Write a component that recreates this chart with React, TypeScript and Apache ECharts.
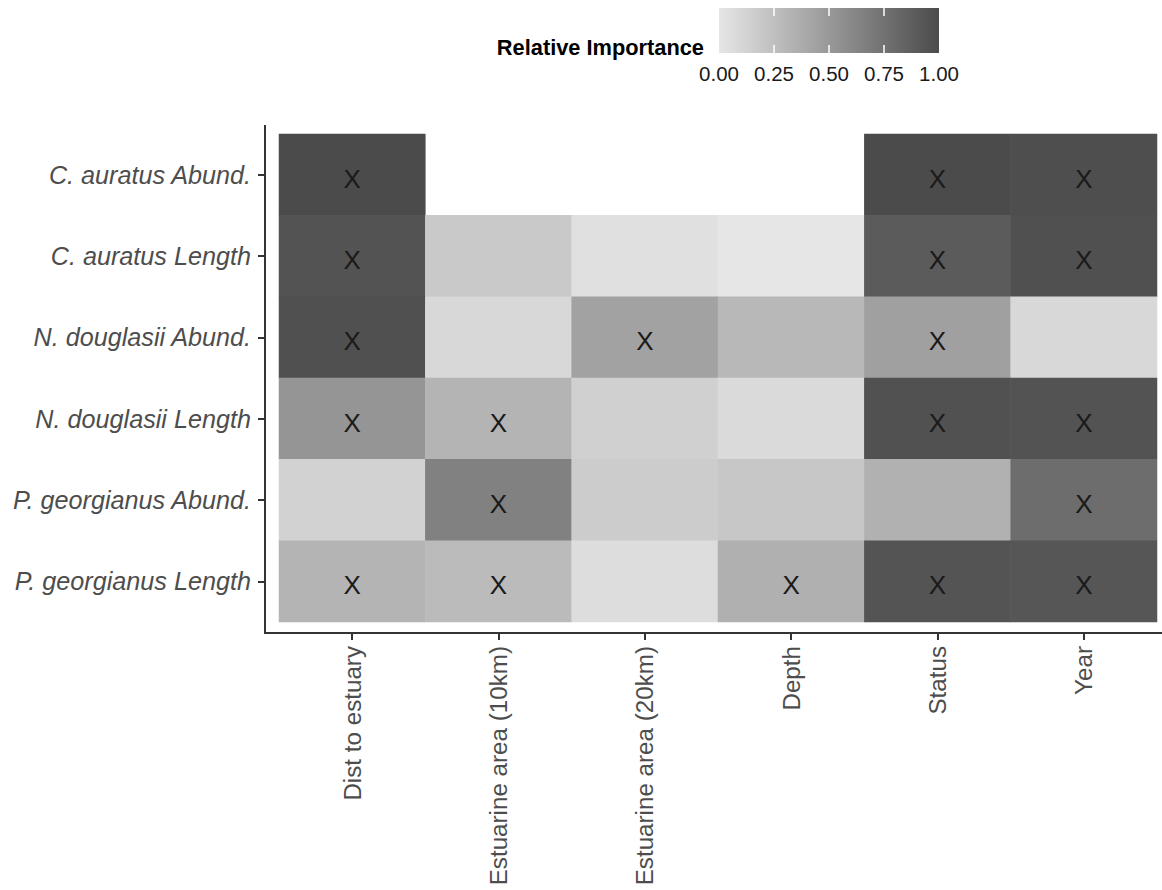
import React, { useEffect, useRef } from "react";
import * as echarts from "echarts";

// Predictors (x axis) and responses (y axis, top to bottom)
const predictors = [
  "Dist to estuary",
  "Estuarine area (10km)",
  "Estuarine area (20km)",
  "Depth",
  "Status",
  "Year",
];
const responses = [
  "C. auratus Abund.",
  "C. auratus Length",
  "N. douglasii Abund.",
  "N. douglasii Length",
  "P. georgianus Abund.",
  "P. georgianus Length",
];

// Relative importance per response (null = not in model)
const cAuratusAbund = [1.0, null, null, null, 1.0, 0.98];
const cAuratusLength = [0.95, 0.19, 0.04, 0.0, 0.9, 0.97];
const nDouglasiiAbund = [0.97, 0.09, 0.44, 0.3, 0.45, 0.09];
const nDouglasiiLength = [0.52, 0.32, 0.14, 0.08, 0.96, 0.95];
const pGeorgianusAbund = [0.13, 0.65, 0.17, 0.2, 0.34, 0.78];
const pGeorgianusLength = [0.32, 0.28, 0.06, 0.35, 0.94, 0.93];

// Marked with "X" (1 = marked)
const cAuratusAbundX = [1, 0, 0, 0, 1, 1];
const cAuratusLengthX = [1, 0, 0, 0, 1, 1];
const nDouglasiiAbundX = [1, 0, 1, 0, 1, 0];
const nDouglasiiLengthX = [1, 1, 0, 0, 1, 1];
const pGeorgianusAbundX = [0, 1, 0, 0, 0, 1];
const pGeorgianusLengthX = [1, 1, 0, 1, 1, 1];

const importanceRows = [
  cAuratusAbund,
  cAuratusLength,
  nDouglasiiAbund,
  nDouglasiiLength,
  pGeorgianusAbund,
  pGeorgianusLength,
];
const markRows = [
  cAuratusAbundX,
  cAuratusLengthX,
  nDouglasiiAbundX,
  nDouglasiiLengthX,
  pGeorgianusAbundX,
  pGeorgianusLengthX,
];

const legendTicks = [0, 0.25, 0.5, 0.75, 1];
const legendTickLabels = ["0.00", "0.25", "0.50", "0.75", "1.00"];

const LOW = "#e6e6e6";
const HIGH = "#4b4b4b";
const FONT = "'Liberation Sans', Arial, Helvetica, sans-serif";

export default function App() {
  const ref = useRef<HTMLDivElement>(null);

  useEffect(() => {
    document.body.style.margin = "0";
    if (!ref.current) return;
    const chart = echarts.init(ref.current, undefined, { renderer: "svg" });

    const data: any[] = [];
    importanceRows.forEach((row, r) => {
      row.forEach((v, c) => {
        if (v !== null && v !== undefined) {
          data.push([c, r, v, markRows[r][c]]);
        }
      });
    });

    const barX = 719;
    const barY = 8;
    const barW = 220;
    const barH = 45;

    const graphics: any[] = [
      {
        type: "polyline",
        shape: { points: [[265, 125], [265, 633], [1162, 633]] },
        style: { stroke: "#333333", lineWidth: 2, fill: null },
        z: 10,
      },
      {
        type: "rect",
        shape: { x: barX, y: barY, width: barW, height: barH },
        style: {
          fill: new echarts.graphic.LinearGradient(0, 0, 1, 0, [
            { offset: 0, color: LOW },
            { offset: 1, color: HIGH },
          ]),
        },
      },
      {
        type: "text",
        x: 704,
        y: 47,
        style: {
          text: "Relative Importance",
          fontSize: 21.8,
          fontWeight: "bold",
          fontFamily: FONT,
          fill: "#000000",
          align: "right",
          verticalAlign: "middle",
        },
      },
    ];
    legendTicks.forEach((t, i) => {
      const x = barX + barW * t;
      if (t > 0 && t < 1) {
        graphics.push({
          type: "line",
          shape: { x1: x, y1: barY, x2: x, y2: barY + 8 },
          style: { stroke: "#ffffff", lineWidth: 1.5 },
        });
        graphics.push({
          type: "line",
          shape: { x1: x, y1: barY + barH - 8, x2: x, y2: barY + barH },
          style: { stroke: "#ffffff", lineWidth: 1.5 },
        });
      }
      graphics.push({
        type: "text",
        x,
        y: 73,
        style: {
          text: legendTickLabels[i],
          fontSize: 20.5,
          fontFamily: FONT,
          fill: "#1a1a1a",
          align: "center",
          verticalAlign: "middle",
        },
      });
    });

    chart.setOption({
      animation: false,
      backgroundColor: "#ffffff",
      grid: {
        left: 279,
        right: 5,
        top: 134,
        bottom: 268,
        containLabel: false,
        outerBoundsMode: "none",
      },
      xAxis: {
        type: "category",
        data: predictors,
        offset: 11,
        axisLine: { show: false },
        axisTick: { show: true, alignWithLabel: true, length: 7, lineStyle: { color: "#333333", width: 2 } },
        axisLabel: {
          rotate: 90,
          interval: 0,
          margin: 13,
          color: "#4d4d4d",
          fontSize: 24.2,
          fontFamily: FONT,
        },
        splitLine: { show: false },
      },
      yAxis: {
        type: "category",
        data: responses,
        inverse: true,
        offset: 14,
        axisLine: { show: false },
        axisTick: { show: true, alignWithLabel: true, length: 7, lineStyle: { color: "#333333", width: 2 } },
        axisLabel: {
          interval: 0,
          margin: 14,
          color: "#4d4d4d",
          fontSize: 25.2,
          fontStyle: "italic",
          fontFamily: FONT,
        },
        splitLine: { show: false },
      },
      visualMap: {
        show: false,
        type: "continuous",
        min: 0,
        max: 1,
        dimension: 2,
        seriesIndex: 0,
        inRange: { color: [LOW, HIGH] },
      },
      series: [
        {
          type: "heatmap",
          data,
          itemStyle: { borderWidth: 0 },
          emphasis: { disabled: true },
          label: {
            show: true,
            formatter: (p: any) => (p.data[3] ? "X" : ""),
            color: "#1a1a1a",
            fontSize: 26,
            fontFamily: FONT,
            offset: [0, 4],
          },
        },
      ],
      graphic: graphics,
    });

    return () => {
      chart.dispose();
    };
  }, []);

  return <div ref={ref} style={{ width: 1162, height: 890 }} />;
}
